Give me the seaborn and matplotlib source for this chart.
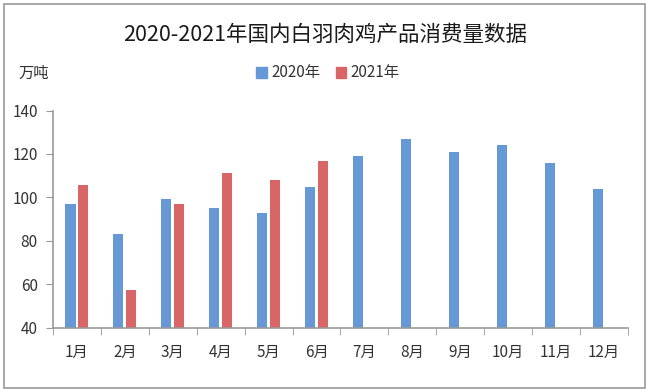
import matplotlib
matplotlib.use("Agg")
import matplotlib.pyplot as plt
import seaborn as sns
import pandas as pd
import numpy as np
from matplotlib.patches import Rectangle
from matplotlib.ticker import FixedLocator

months = ["1月", "2月", "3月", "4月", "5月", "6月", "7月", "8月", "9月", "10月", "11月", "12月"]
v2020 = [97.0, 82.9, 99.1, 95.1, 92.6, 104.6, 119.2, 126.7, 120.7, 124.0, 115.7, 103.8]
v2021 = [105.7, 57.1, 97.0, 111.1, 107.8, 116.9, None, None, None, None, None, None]
series = ["2020年", "2021年"]
colors = ["#6798D6", "#D96666"]

df = pd.DataFrame({
    "月份": months * 2,
    "值": v2020 + v2021,
    "年份": [series[0]] * 12 + [series[1]] * 12,
})

sns.set_style("white")
plt.rcParams["font.family"] = ["Noto Sans CJK SC", "DejaVu Sans"]

fig = plt.figure(figsize=(6.5, 3.92), dpi=100)
ax = fig.add_axes([53 / 650, 64.5 / 392, 575 / 650, 217 / 392])

sns.barplot(data=df, x="月份", y="值", hue="年份", order=months, hue_order=series,
            palette=colors, width=0.54, gap=0.22, ax=ax, legend=False,
            edgecolor="none", linewidth=0, saturation=1)

ax.set_ylim(40, 140)
ax.set_xlim(-0.5, 11.5)
ax.set_yticks([40, 60, 80, 100, 120, 140])
ax.set_xlabel("")
ax.set_ylabel("")
for s in ["top", "right"]:
    ax.spines[s].set_visible(False)
for s in ["left", "bottom"]:
    ax.spines[s].set_color("#999999")
    ax.spines[s].set_linewidth(1.2)

ax.tick_params(axis="y", which="major", direction="out", length=5, color="#999999",
               labelsize=11, labelcolor="#333333", pad=6, left=True)
ax.tick_params(axis="x", which="major", length=0, labelsize=11, labelcolor="#333333", pad=12)
ax.xaxis.set_minor_locator(FixedLocator(np.arange(-0.5, 12.0, 1.0)))
ax.tick_params(axis="x", which="minor", direction="out", length=5, color="#999999", bottom=True)

fig.text(0.5, 35 / 392, "", ha="center")
fig.text(325 / 650, 1 - 35 / 392, "2020-2021年国内白羽肉鸡产品消费量数据",
         ha="center", va="center", fontsize=15.5, color="#1a1a1a")
fig.text(18 / 650, 1 - 73 / 392, "万吨", ha="left", va="center", fontsize=11, color="#333333")

# legend
handles = [Rectangle((0, 0), 1, 1, color=c) for c in colors]
fig.legend(handles, series, loc="center", bbox_to_anchor=(328 / 650, 1 - 73 / 392),
           ncol=2, frameon=False, fontsize=11, handlelength=0.7, handleheight=0.7,
           handletextpad=0.3, columnspacing=1.0, labelcolor="#333333")

# outer border
fig.patches.append(Rectangle((4 / 650, 4 / 392), 641 / 650, 384 / 392, transform=fig.transFigure,
                             fill=False, edgecolor="#999999", linewidth=1.2))

fig.savefig("out.png", dpi=100)
